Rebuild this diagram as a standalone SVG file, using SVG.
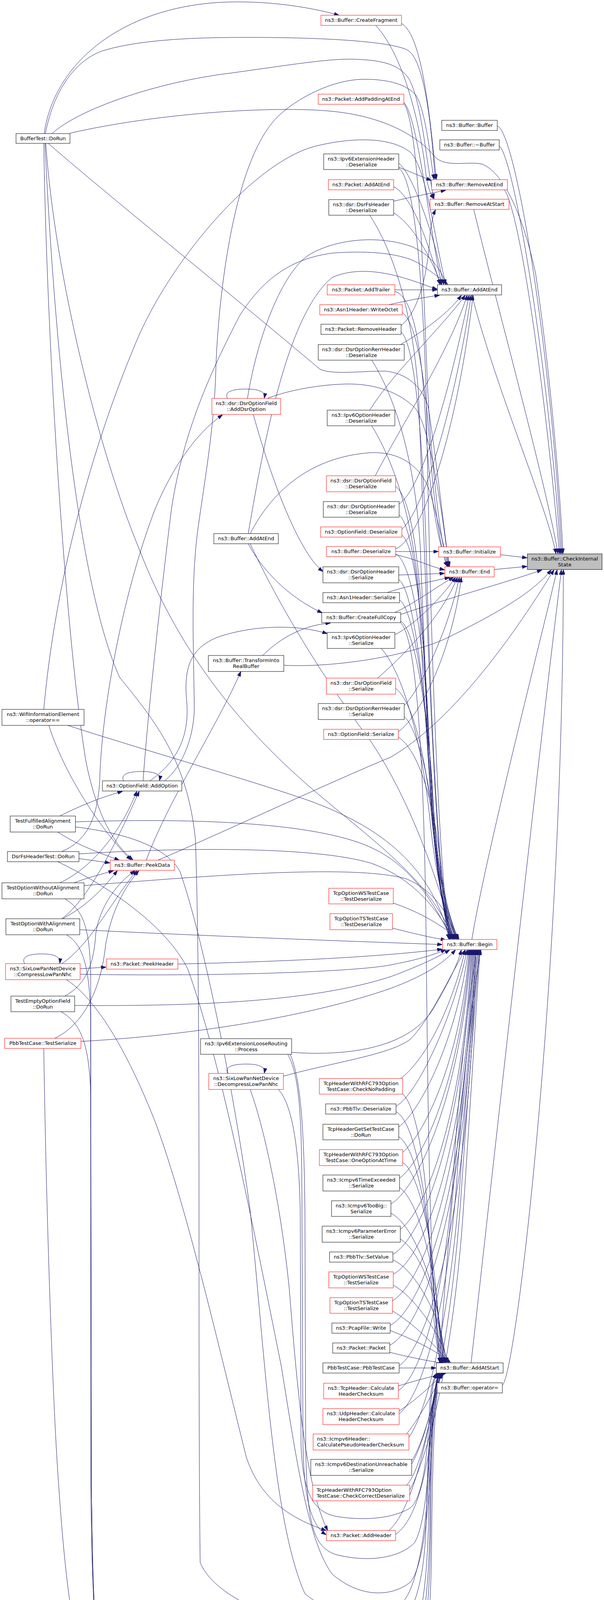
<svg xmlns="http://www.w3.org/2000/svg" width="1545" height="4451" viewBox="0 0 1545 4451">
<defs>
<marker id="a" markerWidth="13" markerHeight="9" viewBox="0 0 13 9" refX="12.5" refY="4.5" orient="auto" markerUnits="userSpaceOnUse"><path d="M0,0 L13,4.5 L0,9 Z" fill="#191970" stroke="#191970" stroke-width="1"/></marker>
</defs>
<style>
.n rect{fill:#ffffff;stroke:#000000;stroke-width:1}
.r rect{fill:#ffffff;stroke:#ff0000;stroke-width:1}
.g rect{fill:#bfbfbf;stroke:#000000;stroke-width:1}
text{font-family:"DejaVu Sans","Liberation Sans",sans-serif;font-size:13px;fill:#000000;text-anchor:middle}
text.l{text-anchor:start}
#edges path{fill:none;stroke:#191970;stroke-width:1;marker-end:url(#a)}
</style>
<rect x="0" y="0" width="1545" height="4451" fill="#ffffff"/>
<g id="edges">
<!-- right column to CheckInternalState -->
<path d="M1272,322 C1320,340 1410,900 1437,1417"/>
<path d="M1277,374 C1315,400 1405,950 1434,1417"/>
<path d="M1290,486 C1330,540 1395,1000 1431,1417"/>
<path d="M1212,536 C1250,700 1400,1250 1427,1417"/>
<path d="M1207,755 C1270,1000 1400,1300 1422,1417"/>
<path d="M1280,1420 L1348,1428"/>
<path d="M1264,1458 L1348,1450"/>
<path d="M1207,2405 C1240,2200 1380,1650 1425,1459"/>
<path d="M1205,3489 C1260,3000 1370,2000 1436,1459"/>
<path d="M1285,3546 C1320,3520 1440,2500 1441,1459"/>
<path d="M179,341 C400,290 700,270 850,285 C1000,300 1080,360 1113,402 C1140,430 1200,412 1232,420 C1290,440 1340,560 1370,700 C1400,900 1430,1200 1440,1417"/>
<!-- BufferTest::DoRun -->
<path d="M113,342 C140,150 330,10 591,5 C700,3 800,20 867,39"/>
<path d="M116,342 C140,220 200,150 266,129 C380,95 560,95 690,96 C880,98 1010,110 1044,129 C1090,160 1105,350 1113,458"/>
<path d="M133,342 C200,280 400,210 591,187 C750,165 850,148 916,152 C980,155 1020,165 1045,200 C1080,260 1090,420 1110,508"/>
<path d="M122,366 C300,520 600,760 818,945 C850,960 920,950 985,950 C1040,955 1080,990 1095,1040 C1120,1200 1140,1400 1150,1450"/>
<path d="M112,367 C120,900 170,1650 220,1950 C250,2100 300,2170 340,2201"/>
<path d="M117,367 C140,700 250,1150 357,1408 C450,1650 600,1850 800,2021 C950,2150 1100,2250 1160,2404"/>
<path d="M115,367 C140,900 200,1500 306,1734 C400,1850 480,1950 500,2150 C515,2600 505,3400 512,4000 C560,4120 850,4200 985,4178 C1060,4160 1085,4050 1090,3900 C1095,3700 1100,3600 1122,3516"/>
<!-- WifiInformationElement -->
<path d="M112,1816 C140,1500 230,1150 357,855 C450,650 650,420 800,376 C900,350 1000,350 1050,390 C1090,430 1110,600 1140,728"/>
<path d="M125,1857 C170,2000 280,2150 335,2201"/>
<path d="M173,1857 C400,1930 650,2000 800,2053 C950,2110 1100,2200 1150,2404"/>
<!-- TestFulfilledAlignment -->
<path d="M153,2089 C200,2065 260,2040 313,2026"/>
<path d="M193,2104 C450,2095 800,2100 950,2170 C1060,2220 1120,2330 1155,2404"/>
<path d="M148,2130 C200,2165 260,2185 305,2202"/>
<path d="M193,2117 C300,2130 420,2160 460,2230 C520,2400 600,2800 640,3100 C680,3500 700,3900 780,4080 C850,4140 950,4140 1020,4110 C1070,4080 1090,3900 1095,3800 C1100,3650 1105,3580 1124,3516"/>
<!-- DsrFsHeaderTest -->
<path d="M158,2180 C230,2150 250,2080 255,2000 C260,1800 320,1500 398,1300 C440,1200 500,1110 569,1062"/>
<path d="M202,2186 C450,2170 800,2165 950,2210 C1060,2250 1120,2330 1160,2404"/>
<path d="M202,2198 L281,2209"/>
<path d="M148,2206 C300,2280 430,2380 480,2480 C560,2700 640,3100 720,3500 C760,3750 790,3950 850,4030 C920,4090 1000,4090 1050,4050 C1090,4000 1100,3800 1104,3700 C1106,3600 1110,3560 1126,3516"/>
<!-- TestOptionWithoutAlignment -->
<path d="M153,2260 C220,2230 300,2150 350,2026"/>
<path d="M189,2260 C230,2245 260,2238 290,2229"/>
<path d="M215,2267 C500,2245 900,2210 1040,2250 C1110,2280 1150,2340 1168,2404"/>
<path d="M166,2301 C215,2330 230,2380 232,2500 L232,3800 C236,4100 240,4190 270,4205 C350,4240 500,4252 665,4252 C850,4252 1000,4230 1049,4205 C1085,4150 1095,4000 1097,3850 C1100,3700 1105,3580 1120,3516"/>
<!-- TestOptionWithAlignment -->
<path d="M158,2352 C230,2300 300,2150 356,2026"/>
<path d="M160,2352 C220,2320 260,2280 300,2229"/>
<path d="M204,2380 C500,2395 900,2410 1131,2418"/>
<path d="M170,2393 C215,2420 228,2480 232,2600 L234,3800 C238,4150 245,4250 275,4262 C360,4295 500,4305 665,4305 C850,4305 1000,4280 1049,4257 C1090,4200 1100,4000 1100,3850 C1102,3700 1108,3580 1122,3516"/>
<!-- CompressLowPanNhc -->
<path d="M63,2467 C52,2447 80,2442 108,2442 C136,2442 155,2448 153,2466"/>
<path d="M205,2480 L271,2476"/>
<path d="M158,2467 C230,2420 290,2300 350,2229"/>
<path d="M205,2494 C500,2500 900,2490 1000,2470 C1080,2455 1120,2440 1140,2431"/>
<path d="M170,2508 C250,2560 330,2700 400,2880 C480,3100 560,3450 630,3730 C660,3820 720,3880 834,3918"/>
<!-- TestEmptyOptionField -->
<path d="M166,2550 C220,2520 240,2470 245,2390 C255,2320 300,2260 345,2229"/>
<path d="M191,2574 C500,2576 800,2565 1000,2500 C1080,2470 1120,2450 1150,2432"/>
<path d="M156,2590 C210,2620 228,2680 232,2800 L234,3800 C238,4200 245,4300 275,4312 C360,4345 500,4354 665,4354 C850,4354 1000,4330 1049,4307 C1092,4250 1102,4050 1102,3850 C1104,3700 1110,3580 1124,3516"/>
<!-- PbbTestCase::TestSerialize -->
<path d="M140,2658 C220,2620 260,2520 270,2420 C285,2330 320,2270 355,2229"/>
<path d="M207,2666 C500,2650 800,2600 1000,2530 C1080,2500 1130,2470 1165,2432"/>
<path d="M112,2684 C118,3100 135,3600 150,3800 C170,4100 200,4300 256,4346 C320,4420 500,4446 655,4446 C820,4446 960,4410 1044,4365 C1090,4300 1102,4150 1104,3950 C1106,3750 1110,3600 1126,3516"/>
<!-- PeekData -->
<path d="M374,2202 C430,2050 560,1850 616,1719"/>
<path d="M404,2202 C550,2140 850,2000 1000,1938 C1150,1850 1300,1650 1417,1459"/>
<!-- OptionField::AddOption -->
<path d="M316,1999 C306,1978 340,1975 362,1975 C390,1975 412,1980 408,1998"/>
<path d="M383,1999 C440,1960 485,1900 478,1800 C470,1720 480,1660 560,1630 C650,1600 760,1598 837,1622"/>
<path d="M366,1999 C380,1800 420,1450 439,1300 C470,1100 540,950 612,810 C680,700 760,660 850,648 C950,640 1040,650 1080,680 C1110,700 1130,715 1145,728"/>
<path d="M421,1999 C470,1960 497,1880 497,1810 C495,1650 488,1500 505,1364 C520,1250 548,1100 552,950 C556,800 590,420 709,300 C760,250 850,205 926,203 C990,202 1040,215 1065,245 C1090,290 1100,400 1110,459"/>
<!-- AddDsrOption -->
<path d="M582,1020 C570,998 610,996 630,996 C655,996 680,1000 676,1019"/>
<path d="M633,1020 C660,850 730,680 800,647 C860,615 960,600 1050,630 C1100,650 1130,690 1140,728"/>
<path d="M684,1020 C720,1005 800,985 887,983 C950,982 1020,1000 1064,1047 C1100,1100 1130,1300 1148,1450"/>
<path d="M648,1061 C700,1250 770,1420 826,1463"/>
<!-- Buffer::AddAtEnd (left) -->
<path d="M635,1392 C660,1440 720,1520 824,1569"/>
<path d="M640,1392 C700,1520 800,1700 950,1900 C1050,2050 1120,2250 1160,2404"/>
<path d="M635,1366 C680,1100 740,800 850,710 C920,680 1000,700 1060,720 C1090,730 1105,737 1118,740"/>
<path d="M640,1366 C700,1250 800,1170 946,1159 C1030,1155 1080,1200 1100,1260 C1120,1330 1135,1400 1148,1450"/>
<!-- TransformIntoRealBuffer -->
<path d="M672,1678 C720,1630 780,1600 845,1595"/>
<path d="M726,1703 C850,1710 1050,1680 1150,1630 C1270,1570 1360,1520 1410,1459"/>
<!-- LooseRouting -->
<path d="M746,2694 C900,2705 1050,2680 1110,2580 C1150,2510 1170,2470 1180,2432"/>
<path d="M736,2699 C765,2750 770,2850 772,3000 L775,3700 C778,3820 790,3900 834,3929"/>
<path d="M742,2699 C770,2760 778,2900 780,3100 L782,3700 C785,3900 800,3960 860,3980 C940,4000 1020,3990 1060,3950 C1090,3900 1098,3750 1100,3650 C1102,3580 1105,3540 1118,3516"/>
<!-- DecompressLowPanNhc -->
<path d="M582,2748 C572,2726 610,2724 630,2724 C655,2724 680,2728 676,2747"/>
<path d="M725,2755 C850,2720 1000,2700 1050,2660 C1100,2610 1150,2500 1190,2432"/>
<path d="M640,2789 C680,2900 720,3100 740,3300 C760,3550 780,3800 838,3918"/>
<path d="M712,2789 C750,2830 765,2950 768,3100 L770,3700 C775,3820 800,3870 860,3882 C940,3895 1010,3885 1050,3860 C1085,3830 1095,3700 1098,3620 C1100,3570 1104,3540 1116,3516"/>
<!-- PeekHeader -->
<path d="M455,2468 C700,2462 950,2452 1131,2430"/>
<!-- middle column -->
<path d="M1027,60 C1080,90 1100,300 1116,459"/>
<path d="M961,65 C1040,150 1080,350 1090,450 C1095,480 1100,495 1110,509"/>
<path d="M1033,262 C1070,300 1100,600 1130,728"/>
<path d="M1033,265 C1080,330 1085,900 1100,1100 C1115,1300 1135,1420 1146,1450"/>
<path d="M1020,428 L1103,462"/>
<path d="M1020,418 C1050,440 1090,550 1115,640 C1125,680 1130,710 1135,728"/>
<path d="M1020,430 C1060,460 1080,700 1090,1000 C1100,1600 1120,2200 1150,2404"/>
<path d="M1007,478 C1050,500 1090,600 1125,728"/>
<path d="M1007,515 C1050,505 1100,495 1140,487"/>
<path d="M1007,545 C1050,570 1100,650 1128,728"/>
<path d="M946,551 C990,620 1050,750 1070,1000 C1090,1500 1110,2200 1148,2404"/>
<path d="M1010,742 L1118,742"/>
<path d="M1010,746 C1060,760 1080,900 1090,1100 C1100,1300 1130,1420 1145,1450"/>
<path d="M995,780 C1040,770 1090,760 1124,756"/>
<path d="M1029,800 C1070,830 1090,1000 1100,1150 C1110,1300 1130,1420 1144,1450"/>
<path d="M1026,833 C1070,800 1095,700 1100,600 C1103,570 1108,550 1114,537"/>
<path d="M1026,850 C1060,880 1080,1100 1090,1400 C1100,1800 1120,2250 1152,2404"/>
<path d="M1025,882 C1080,850 1150,800 1180,756"/>
<path d="M951,922 C1000,1000 1060,1150 1075,1400 C1090,1800 1110,2250 1150,2404"/>
<path d="M946,1050 C1000,960 1120,850 1190,756"/>
<path d="M951,1090 C1000,1170 1050,1300 1070,1500 C1090,1900 1110,2250 1155,2404"/>
<path d="M960,1218 C1020,1100 1150,900 1195,756"/>
<path d="M1012,1245 C1060,1280 1080,1500 1090,1800 C1100,2100 1120,2300 1155,2404"/>
<path d="M1021,1290 C1080,1250 1150,1000 1200,756"/>
<path d="M1021,1318 C1060,1350 1085,1600 1095,1900 C1105,2150 1125,2320 1158,2404"/>
<path d="M1028,1355 C1090,1300 1170,1000 1205,756"/>
<path d="M1028,1370 C1070,1400 1090,1700 1100,1950 C1110,2200 1130,2330 1160,2404"/>
<path d="M1012,1412 L1121,1412"/>
<path d="M1012,1420 C1060,1430 1100,1450 1137,1459"/>
<path d="M1012,1405 C1080,1380 1170,1100 1210,756"/>
<path d="M1012,1418 C1060,1440 1090,1700 1100,1950 C1110,2200 1130,2330 1162,2404"/>
<path d="M1020,1472 L1137,1468"/>
<path d="M1020,1484 C1060,1510 1090,1800 1100,2000 C1110,2200 1130,2330 1164,2404"/>
<path d="M990,1517 C1040,1500 1100,1490 1150,1478"/>
<path d="M1022,1536 C1060,1560 1090,1800 1105,2000 C1115,2200 1135,2330 1166,2404"/>
<path d="M1010,1568 C1060,1545 1120,1500 1160,1478"/>
<path d="M1025,1573 C1150,1530 1300,1490 1386,1459"/>
<path d="M1025,1590 C1060,1610 1090,1800 1105,2000 C1115,2200 1135,2330 1168,2404"/>
<path d="M1025,1594 C1070,1640 1085,2000 1090,2400 C1095,2900 1100,3300 1125,3488"/>
<path d="M1010,1625 C1060,1600 1130,1530 1165,1478"/>
<path d="M975,1660 C1030,1720 1080,1900 1100,2100 C1115,2250 1140,2340 1168,2404"/>
<path d="M966,1736 C1030,1680 1130,1580 1170,1478"/>
<path d="M1012,1762 C1060,1800 1090,1950 1105,2100 C1120,2250 1145,2340 1170,2404"/>
<path d="M1034,1806 C1080,1760 1150,1600 1175,1478"/>
<path d="M1034,1834 C1070,1870 1100,2000 1115,2150 C1130,2280 1150,2350 1172,2404"/>
<path d="M1019,1873 C1080,1830 1160,1650 1180,1478"/>
<path d="M1019,1887 C1070,1920 1110,2050 1125,2200 C1140,2320 1155,2370 1174,2404"/>
<path d="M1006,2312 C1060,2330 1120,2360 1172,2404"/>
<path d="M1004,2376 C1060,2390 1100,2400 1140,2406"/>
<path d="M1025,2761 C1080,2720 1150,2600 1190,2432"/>
<path d="M1030,2800 C1070,2840 1090,3000 1100,3200 C1105,3350 1115,3450 1128,3488"/>
<path d="M1013,2832 C1070,2800 1160,2600 1195,2432"/>
<path d="M1013,2846 C1060,2870 1090,3050 1105,3250 C1115,3380 1120,3450 1130,3488"/>
<path d="M1020,2885 C1080,2840 1170,2650 1198,2432"/>
<path d="M1020,2910 C1065,2940 1095,3100 1110,3300 C1118,3400 1125,3460 1132,3488"/>
<path d="M1030,2950 C1090,2900 1180,2700 1200,2432"/>
<path d="M1030,2976 C1070,3000 1100,3150 1115,3300 C1122,3400 1128,3460 1134,3488"/>
<path d="M1022,3016 C1085,2970 1180,2750 1202,2432"/>
<path d="M1022,3040 C1065,3070 1100,3200 1118,3330 C1125,3410 1130,3460 1136,3488"/>
<path d="M1000,3082 C1070,3040 1180,2800 1204,2432"/>
<path d="M1000,3106 C1050,3130 1100,3250 1120,3360 C1128,3420 1133,3460 1138,3488"/>
<path d="M1024,3147 C1090,3100 1185,2850 1206,2432"/>
<path d="M1024,3172 C1070,3200 1110,3300 1125,3390 C1132,3440 1136,3465 1140,3488"/>
<path d="M1005,3211 C1080,3170 1185,2900 1208,2432"/>
<path d="M1005,3225 C1060,3250 1110,3350 1128,3410 C1136,3450 1140,3470 1142,3488"/>
<path d="M1006,3262 C1085,3220 1190,2950 1210,2432"/>
<path d="M1006,3290 C1060,3320 1110,3400 1130,3440 C1138,3460 1142,3475 1145,3488"/>
<path d="M1004,3330 C1085,3280 1190,3000 1212,2432"/>
<path d="M1004,3356 C1060,3390 1110,3440 1148,3488"/>
<path d="M998,3393 C1080,3350 1195,3050 1214,2432"/>
<path d="M998,3406 C1060,3430 1120,3460 1152,3488"/>
<path d="M997,3444 C1080,3400 1195,3100 1216,2432"/>
<path d="M997,3462 C1050,3475 1100,3485 1135,3490"/>
<path d="M1021,3502 L1115,3502"/>
<path d="M1021,3496 C1090,3450 1198,3150 1218,2432"/>
<path d="M1019,3548 C1060,3535 1110,3522 1140,3516"/>
<path d="M1019,3560 C1080,3520 1140,3300 1160,3000 C1180,2700 1200,2550 1220,2432"/>
<path d="M1021,3612 C1070,3580 1110,3540 1135,3516"/>
<path d="M1021,3620 C1090,3560 1150,3300 1170,3000 C1190,2700 1210,2550 1222,2432"/>
<path d="M1040,3671 C1080,3620 1110,3560 1132,3516"/>
<path d="M1046,3680 C1100,3600 1150,3350 1175,3050 C1195,2750 1215,2550 1224,2432"/>
<path d="M1053,3740 C1085,3690 1110,3580 1130,3516"/>
<path d="M1053,3748 C1110,3650 1160,3350 1180,3050 C1200,2750 1218,2550 1226,2432"/>
<path d="M1040,3802 C1080,3760 1105,3600 1128,3516"/>
<path d="M1048,3815 C1110,3700 1165,3400 1185,3100 C1205,2800 1220,2550 1228,2432"/>
<path d="M995,3918 C1050,3870 1090,3700 1105,3600 C1112,3560 1118,3535 1125,3516"/>
<path d="M1012,3928 C1080,3880 1110,3700 1130,3400 C1160,3000 1200,2600 1230,2432"/>
</g>
<!-- nodes -->
<g id="cis" class="g"><rect x="1349" y="1418" width="191" height="40"/><text x="1444.5" y="1434.5">ns3::Buffer::CheckInternal</text><text x="1444.5" y="1449.5">State</text></g>
<g id="buffer_ctor" class="n"><rect x="1130" y="308" width="142" height="26"/><text x="1201" y="325">ns3::Buffer::Buffer</text></g>
<g id="buffer_dtor" class="n"><rect x="1125" y="358" width="152" height="26"/><text x="1201" y="375">ns3::Buffer::~Buffer</text></g>
<g id="remove_at_end" class="r"><rect x="1104" y="460" width="194" height="26"/><text x="1201" y="477">ns3::Buffer::RemoveAtEnd</text></g>
<g id="remove_at_start" class="r"><rect x="1100" y="510" width="202" height="26"/><text x="1201" y="527">ns3::Buffer::RemoveAtStart</text></g>
<g id="add_at_end_r" class="n"><rect x="1119" y="729" width="164" height="26"/><text x="1201" y="746">ns3::Buffer::AddAtEnd</text></g>
<g id="initialize" class="r"><rect x="1122" y="1400" width="158" height="26"/><text x="1201" y="1417">ns3::Buffer::Initialize</text></g>
<g id="end" class="r"><rect x="1138" y="1451" width="126" height="26"/><text x="1201" y="1468">ns3::Buffer::End</text></g>
<g id="begin" class="r"><rect x="1132" y="2405" width="139" height="26"/><text x="1201.5" y="2422">ns3::Buffer::Begin</text></g>
<g id="add_at_start" class="n"><rect x="1116" y="3489" width="171" height="26"/><text x="1201.5" y="3506">ns3::Buffer::AddAtStart</text></g>
<g id="operator_assign" class="n"><rect x="1118" y="3540" width="167" height="26"/><text x="1201.5" y="3557">ns3::Buffer::operator=</text></g>

<g id="create_fragment" class="r"><rect x="821" y="39" width="206" height="26"/><text x="924" y="56">ns3::Buffer::CreateFragment</text></g>
<g id="add_padding_at_end" class="r"><rect x="814" y="241" width="219" height="26"/><text x="923.5" y="258">ns3::Packet::AddPaddingAtEnd</text></g>
<g id="ipv6ext_deser" class="n"><rect x="828" y="394" width="192" height="40"/><text x="924" y="410.5">ns3::Ipv6ExtensionHeader</text><text x="924" y="425.5">::Deserialize</text></g>
<g id="packet_add_at_end" class="r"><rect x="840" y="460" width="167" height="26"/><text x="923.5" y="477">ns3::Packet::AddAtEnd</text></g>
<g id="dsrfs_deser" class="n"><rect x="841" y="511" width="166" height="40"/><text x="924" y="527.5">ns3::dsr::DsrFsHeader</text><text x="924" y="542.5">::Deserialize</text></g>
<g id="add_trailer" class="r"><rect x="837" y="729" width="173" height="26"/><text x="923.5" y="746">ns3::Packet::AddTrailer</text></g>
<g id="write_octet" class="r"><rect x="818" y="780" width="211" height="26"/><text x="923.5" y="797">ns3::Asn1Header::WriteOctet</text></g>
<g id="remove_header" class="n"><rect x="821" y="830" width="205" height="26"/><text x="923.5" y="847">ns3::Packet::RemoveHeader</text></g>
<g id="rerr_deser" class="n"><rect x="814" y="882" width="220" height="40"/><text x="924" y="898.5">ns3::dsr::DsrOptionRerrHeader</text><text x="924" y="913.5">::Deserialize</text></g>
<g id="ipv6opt_deser" class="n"><rect x="837" y="1050" width="173" height="40"/><text x="923.5" y="1066.5">ns3::Ipv6OptionHeader</text><text x="923.5" y="1081.5">::Deserialize</text></g>
<g id="dsrfield_deser" class="r"><rect x="835" y="1218" width="177" height="41"/><text x="923.5" y="1234.5">ns3::dsr::DsrOptionField</text><text x="923.5" y="1249.5">::Deserialize</text></g>
<g id="dsrhdr_deser" class="n"><rect x="827" y="1284" width="194" height="40"/><text x="924" y="1300.5">ns3::dsr::DsrOptionHeader</text><text x="924" y="1315.5">::Deserialize</text></g>
<g id="optfield_deser" class="r"><rect x="820" y="1349" width="208" height="26"/><text x="924" y="1366">ns3::OptionField::Deserialize</text></g>
<g id="buffer_deser" class="r"><rect x="835" y="1399" width="177" height="26"/><text x="923.5" y="1416">ns3::Buffer::Deserialize</text></g>
<g id="dsrhdr_ser" class="n"><rect x="826" y="1451" width="194" height="41"/><text x="923" y="1467.5">ns3::dsr::DsrOptionHeader</text><text x="923" y="1482.5">::Serialize</text></g>
<g id="asn1_ser" class="n"><rect x="826" y="1517" width="196" height="26"/><text x="924" y="1534">ns3::Asn1Header::Serialize</text></g>
<g id="create_full_copy" class="n"><rect x="823" y="1568" width="202" height="26"/><text x="924" y="1585">ns3::Buffer::CreateFullCopy</text></g>
<g id="ipv6opt_ser" class="n"><rect x="837" y="1619" width="173" height="41"/><text x="923.5" y="1635.5">ns3::Ipv6OptionHeader</text><text x="923.5" y="1650.5">::Serialize</text></g>
<g id="dsrfield_ser" class="r"><rect x="835" y="1736" width="177" height="41"/><text x="923.5" y="1752.5">ns3::dsr::DsrOptionField</text><text x="923.5" y="1767.5">::Serialize</text></g>
<g id="rerr_ser" class="n"><rect x="814" y="1801" width="220" height="41"/><text x="924" y="1817.5">ns3::dsr::DsrOptionRerrHeader</text><text x="924" y="1832.5">::Serialize</text></g>
<g id="optfield_ser" class="r"><rect x="828" y="1867" width="191" height="26"/><text x="923.5" y="1884">ns3::OptionField::Serialize</text></g>
<g id="ws_testdeser" class="r"><rect x="841" y="2274" width="165" height="40"/><text x="923.5" y="2290.5">TcpOptionWSTestCase</text><text x="923.5" y="2305.5">::TestDeserialize</text></g>
<g id="ts_testdeser" class="r"><rect x="844" y="2339" width="160" height="41"/><text x="924" y="2355.5">TcpOptionTSTestCase</text><text x="924" y="2370.5">::TestDeserialize</text></g>
<g id="check_no_padding" class="r"><rect x="817" y="2761" width="213" height="40"/><text x="923.5" y="2777.5">TcpHeaderWithRFC793Option</text><text x="923.5" y="2792.5">TestCase::CheckNoPadding</text></g>
<g id="pbbtlv_deser" class="n"><rect x="833" y="2826" width="180" height="26"/><text x="923" y="2843">ns3::PbbTlv::Deserialize</text></g>
<g id="getset_dorun" class="n"><rect x="826" y="2878" width="194" height="40"/><text x="923" y="2894.5">TcpHeaderGetSetTestCase</text><text x="923" y="2909.5">::DoRun</text></g>
<g id="one_option" class="r"><rect x="817" y="2943" width="213" height="41"/><text x="923.5" y="2959.5">TcpHeaderWithRFC793Option</text><text x="923.5" y="2974.5">TestCase::OneOptionAtTime</text></g>
<g id="time_exceeded_ser" class="n"><rect x="826" y="3008" width="196" height="41"/><text x="924" y="3024.5">ns3::Icmpv6TimeExceeded</text><text x="924" y="3039.5">::Serialize</text></g>
<g id="too_big_ser" class="n"><rect x="848" y="3074" width="152" height="40"/><text x="924" y="3090.5">ns3::Icmpv6TooBig::</text><text x="924" y="3105.5">Serialize</text></g>
<g id="param_error_ser" class="n"><rect x="824" y="3139" width="200" height="41"/><text x="924" y="3155.5">ns3::Icmpv6ParameterError</text><text x="924" y="3170.5">::Serialize</text></g>
<g id="pbbtlv_setvalue" class="n"><rect x="843" y="3205" width="162" height="26"/><text x="924" y="3222">ns3::PbbTlv::SetValue</text></g>
<g id="ws_testser" class="r"><rect x="841" y="3256" width="165" height="41"/><text x="923.5" y="3272.5">TcpOptionWSTestCase</text><text x="923.5" y="3287.5">::TestSerialize</text></g>
<g id="ts_testser" class="r"><rect x="844" y="3322" width="160" height="40"/><text x="924" y="3338.5">TcpOptionTSTestCase</text><text x="924" y="3353.5">::TestSerialize</text></g>
<g id="pcap_write" class="n"><rect x="849" y="3387" width="149" height="26"/><text x="923.5" y="3404">ns3::PcapFile::Write</text></g>
<g id="packet_ctor" class="n"><rect x="851" y="3438" width="146" height="26"/><text x="924" y="3455">ns3::Packet::Packet</text></g>
<g id="pbb_testcase_ctor" class="n"><rect x="826" y="3489" width="195" height="26"/><text x="923.5" y="3506">PbbTestCase::PbbTestCase</text></g>
<g id="tcp_checksum" class="r"><rect x="828" y="3541" width="191" height="40"/><text x="923.5" y="3557.5">ns3::TcpHeader::Calculate</text><text x="923.5" y="3572.5">HeaderChecksum</text></g>
<g id="udp_checksum" class="r"><rect x="826" y="3606" width="195" height="41"/><text x="923.5" y="3622.5">ns3::UdpHeader::Calculate</text><text x="923.5" y="3637.5">HeaderChecksum</text></g>
<g id="icmpv6_pseudo" class="r"><rect x="801" y="3671" width="245" height="41"/><text class="l" x="811" y="3687.5">ns3::Icmpv6Header::</text><text class="l" x="811" y="3702.5">CalculatePseudoHeaderChecksum</text></g>
<g id="dest_unreach_ser" class="n"><rect x="795" y="3736" width="258" height="41"/><text x="924" y="3752.5">ns3::Icmpv6DestinationUnreachable</text><text x="924" y="3767.5">::Serialize</text></g>
<g id="check_correct_deser" class="r"><rect x="800" y="3802" width="248" height="40"/><text class="l" x="810" y="3818.5">TcpHeaderWithRFC793Option</text><text class="l" x="810" y="3833.5">TestCase::CheckCorrectDeserialize</text></g>
<g id="add_header" class="r"><rect x="835" y="3918" width="177" height="26"/><text x="923.5" y="3935">ns3::Packet::AddHeader</text></g>

<g id="add_dsr_option" class="r"><rect x="542" y="1020" width="176" height="41"/><text x="630" y="1036.5">ns3::dsr::DsrOptionField</text><text x="630" y="1051.5">::AddDsrOption</text></g>
<g id="add_at_end_l" class="n"><rect x="547" y="1366" width="165" height="26"/><text x="629.5" y="1383">ns3::Buffer::AddAtEnd</text></g>
<g id="transform_real" class="n"><rect x="533" y="1678" width="193" height="41"/><text x="629.5" y="1694.5">ns3::Buffer::TransformInto</text><text x="629.5" y="1709.5">RealBuffer</text></g>
<g id="loose_routing" class="n"><rect x="513" y="2659" width="233" height="40"/><text x="629.5" y="2675.5">ns3::Ipv6ExtensionLooseRouting</text><text x="629.5" y="2690.5">::Process</text></g>
<g id="decompress_nhc" class="r"><rect x="534" y="2748" width="191" height="41"/><text x="629.5" y="2764.5">ns3::SixLowPanNetDevice</text><text x="629.5" y="2779.5">::DecompressLowPanNhc</text></g>

<g id="add_option" class="n"><rect x="262" y="1999" width="203" height="26"/><text x="363.5" y="2016">ns3::OptionField::AddOption</text></g>
<g id="peek_data" class="r"><rect x="282" y="2202" width="164" height="26"/><text x="364" y="2219">ns3::Buffer::PeekData</text></g>
<g id="peek_header" class="r"><rect x="272" y="2455" width="183" height="26"/><text x="363.5" y="2472">ns3::Packet::PeekHeader</text></g>

<g id="buffertest_dorun" class="n"><rect x="41" y="342" width="138" height="25"/><text x="110" y="359">BufferTest::DoRun</text></g>
<g id="wifi_ie_eq" class="n"><rect x="5" y="1816" width="210" height="41"/><text x="110" y="1832.5">ns3::WifiInformationElement</text><text x="110" y="1847.5">::operator==</text></g>
<g id="fulfilled_dorun" class="n"><rect x="26" y="2089" width="167" height="41"/><text x="109.5" y="2105.5">TestFulfilledAlignment</text><text x="109.5" y="2120.5">::DoRun</text></g>
<g id="dsrfs_test_dorun" class="n"><rect x="19" y="2180" width="183" height="26"/><text x="110.5" y="2197">DsrFsHeaderTest::DoRun</text></g>
<g id="without_align_dorun" class="n"><rect x="5" y="2260" width="210" height="41"/><text x="110" y="2276.5">TestOptionWithoutAlignment</text><text x="110" y="2291.5">::DoRun</text></g>
<g id="with_align_dorun" class="n"><rect x="15" y="2352" width="189" height="41"/><text x="109.5" y="2368.5">TestOptionWithAlignment</text><text x="109.5" y="2383.5">::DoRun</text></g>
<g id="compress_nhc" class="r"><rect x="14" y="2467" width="191" height="41"/><text x="109.5" y="2483.5">ns3::SixLowPanNetDevice</text><text x="109.5" y="2498.5">::CompressLowPanNhc</text></g>
<g id="empty_option_dorun" class="n"><rect x="28" y="2550" width="163" height="40"/><text x="109.5" y="2566.5">TestEmptyOptionField</text><text x="109.5" y="2581.5">::DoRun</text></g>
<g id="pbb_testserialize" class="r"><rect x="12" y="2658" width="195" height="26"/><text x="109.5" y="2675">PbbTestCase::TestSerialize</text></g>
</svg>
